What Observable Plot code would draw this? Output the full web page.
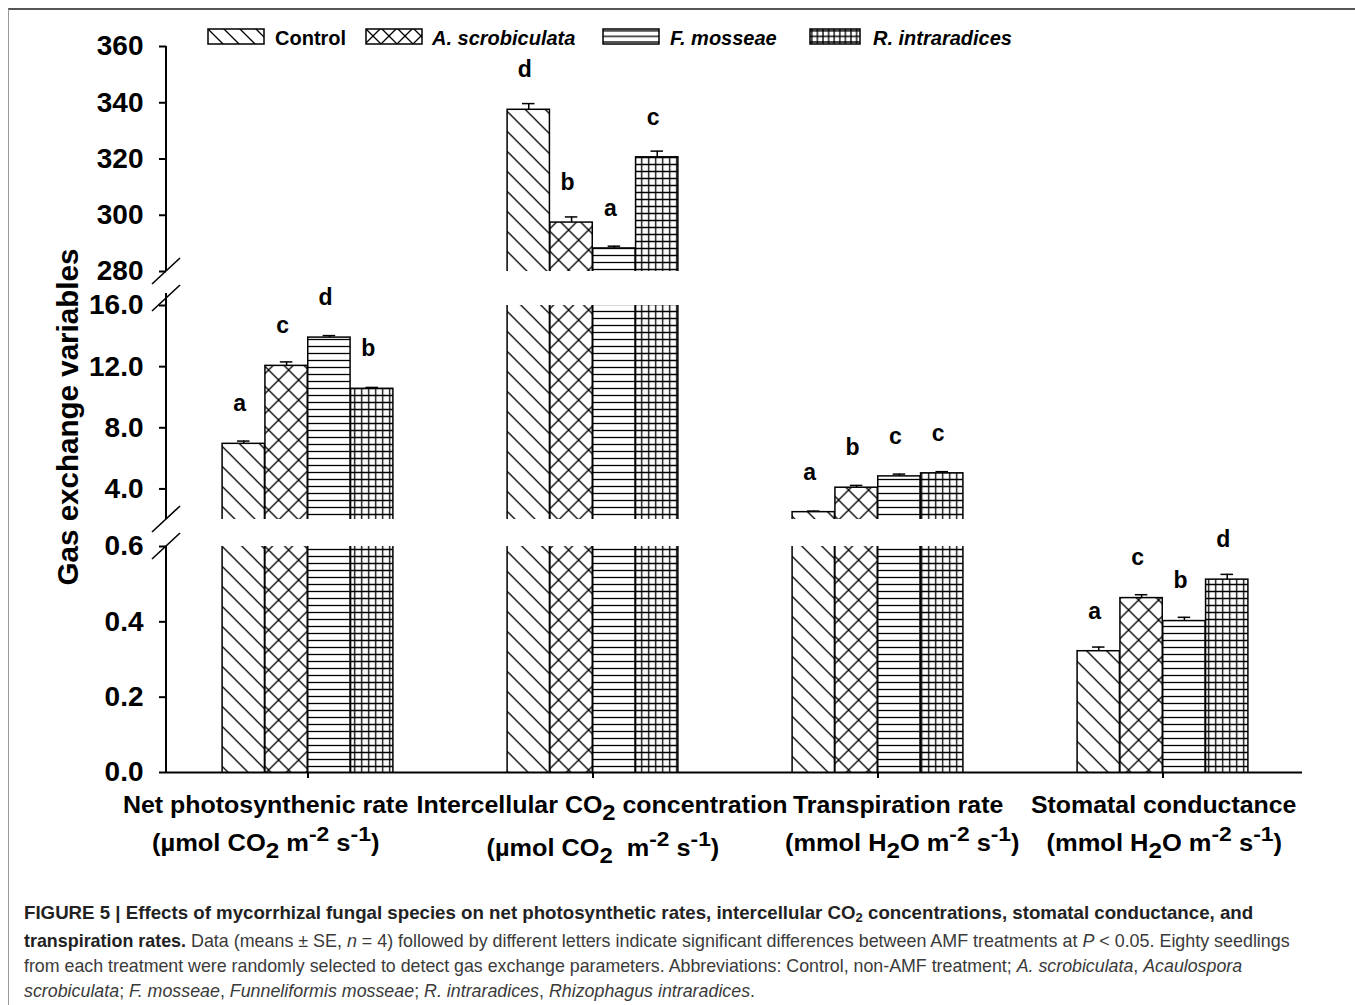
<!DOCTYPE html>
<html><head><meta charset="utf-8">
<script src="https://cdn.jsdelivr.net/npm/d3@7"></script>
<script src="https://cdn.jsdelivr.net/npm/@observablehq/plot@0.6"></script>
<style>
html,body{margin:0;padding:0;background:#fff;overflow:hidden}
#page{position:relative;width:1355px;height:1005px;overflow:hidden;font-family:"Liberation Sans",Arial,Helvetica,sans-serif;color:#000;background:#fff}
#frame{position:absolute;left:8px;top:8px;width:1500px;height:1200px;border-top:2px solid #555;border-left:1px solid #999;box-sizing:border-box}
.abs{position:absolute;white-space:nowrap}
.leg-text{font-weight:bold;font-size:20px;line-height:20px}
.xl{font-weight:bold;font-size:23px;line-height:23px}
.xl sub{font-size:0.95em;vertical-align:-0.3em;line-height:0}
.xl sup{font-size:0.9em;vertical-align:0.5em;line-height:0}
.ytitle{font-weight:bold;font-size:30px;line-height:30px}
.cap{font-size:19px;line-height:19px;color:#3a3a3a}
.cap b{color:#222}
.cap sub{font-size:0.7em;vertical-align:-0.25em;line-height:0}
</style></head>
<body><div id="page"><div id="frame"></div></div>
<script>
// ---------------- data ----------------
const groups = ["Net photosynthenic rate", "Intercellular CO2 concentration", "Transpiration rate", "Stomatal conductance"];
const treatments = ["Control", "A. scrobiculata", "F. mosseae", "R. intraradices"];
const netPhotosynthetic = [6.95, 12.05, 13.9, 10.55];
const netPhotosyntheticSE = [0.18, 0.26, 0.13, 0.09];
const netPhotosyntheticLetters = ["a", "c", "d", "b"];
const intercellularCO2 = [337.5, 297.4, 288.2, 320.6];
const intercellularCO2SE = [2.2, 2.0, 0.8, 2.2];
const intercellularCO2Letters = ["d", "b", "a", "c"];
const transpiration = [2.48, 4.08, 4.82, 5.02];
const transpirationSE = [0.07, 0.15, 0.15, 0.11];
const transpirationLetters = ["a", "b", "c", "c"];
const stomatal = [0.322, 0.463, 0.402, 0.512];
const stomatalSE = [0.011, 0.009, 0.010, 0.014];
const stomatalLetters = ["a", "c", "b", "d"];
const topTicks = [280, 300, 320, 340, 360];
const midTicks = [4, 8, 12, 16];
const lowTicks = [0, 0.2, 0.4, 0.6];
const yTitle = "Gas exchange variables";
const xLabelLine1 = ["Net photosynthenic rate", "Intercellular CO<sub>2</sub> concentration", "Transpiration rate", "Stomatal conductance"];
const xLabelLine2 = ["(µmol CO<sub>2</sub> m<sup>-2</sup> s<sup>-1</sup>)", "(µmol CO<sub>2</sub>&nbsp; m<sup>-2</sup> s<sup>-1</sup>)", "(mmol H<sub>2</sub>O m<sup>-2</sup> s<sup>-1</sup>)", "(mmol H<sub>2</sub>O m<sup>-2</sup> s<sup>-1</sup>)"];
const captionLines = [
  "<b>FIGURE 5 | Effects of mycorrhizal fungal species on net photosynthetic rates, intercellular CO<sub>2</sub> concentrations, stomatal conductance, and</b>",
  "<b>transpiration rates.</b> Data (means ± SE, <i>n</i> = 4) followed by different letters indicate significant differences between AMF treatments at <i>P</i> &lt; 0.05. Eighty seedlings",
  "from each treatment were randomly selected to detect gas exchange parameters. Abbreviations: Control, non-AMF treatment; <i>A. scrobiculata</i>, <i>Acaulospora</i>",
  "<i>scrobiculata</i>; <i>F. mosseae</i>, <i>Funneliformis mosseae</i>; <i>R. intraradices</i>, <i>Rhizophagus intraradices</i>."
];

const series = [
  [netPhotosynthetic, netPhotosyntheticSE, netPhotosyntheticLetters],
  [intercellularCO2, intercellularCO2SE, intercellularCO2Letters],
  [transpiration, transpirationSE, transpirationLetters],
  [stomatal, stomatalSE, stomatalLetters]
];
const rows = groups.flatMap((g, gi) => treatments.map((t, ti) => ({
  group: g, treatment: t, value: series[gi][0][ti], se: series[gi][1][ti], letter: series[gi][2][ti]
})));

// ---------------- layout ----------------
const W = 1355, H = 800, ML = 166, MR = 47, XIN_L = -2, XIN_R = 2;
const BW = (W - ML - MR - XIN_L - XIN_R) / groups.length;
const BAR = BW * 0.6 / treatments.length;
const CAP = 13;
const NS = "http://www.w3.org/2000/svg";
const FONT = "'Liberation Sans', Arial, Helvetica, sans-serif";

function patternDefs(id, s = 1) {
  const a = 20 * s, h = 7 * s;
  return `<defs>
  <pattern id="${id}-p0" patternUnits="userSpaceOnUse" width="${a}" height="${a}">
    <rect width="${a}" height="${a}" fill="white"/>
    <path d="M0,0L${a},${a}M${-a/4},${a*3/4}L${a/4},${a*5/4}M${a*3/4},${-a/4}L${a*5/4},${a/4}" stroke="black" stroke-width="1.3"/>
  </pattern>
  <pattern id="${id}-p1" patternUnits="userSpaceOnUse" width="${a}" height="${a}">
    <rect width="${a}" height="${a}" fill="white"/>
    <path d="M0,0L${a},${a}M${-a/4},${a*3/4}L${a/4},${a*5/4}M${a*3/4},${-a/4}L${a*5/4},${a/4}M${a},0L0,${a}M${-a/4},${a/4}L${a/4},${-a/4}M${a*3/4},${a*5/4}L${a*5/4},${a*3/4}" stroke="black" stroke-width="1.3"/>
  </pattern>
  <pattern id="${id}-p2" patternUnits="userSpaceOnUse" width="${h}" height="${h}">
    <rect width="${h}" height="${h}" fill="white"/>
    <path d="M0,${h/2}H${h}" stroke="black" stroke-width="1.3"/>
  </pattern>
  <pattern id="${id}-p3" patternUnits="userSpaceOnUse" width="${h}" height="${h}">
    <rect width="${h}" height="${h}" fill="white"/>
    <path d="M0,${h/2}H${h}M${h/2},0V${h}" stroke="black" stroke-width="1.3"/>
  </pattern></defs>`;
}

const panels = [
  {id: "top", domain: [280, 360], ticks: topTicks, digits: 0, top: 46, bottom: 271, ext: 0, breakTop: false, breakBottom: true},
  {id: "mid", domain: [2, 16], ticks: midTicks, digits: 1, top: 305, bottom: 519, ext: 12, breakTop: true, breakBottom: true},
  {id: "low", domain: [0, 0.6], ticks: lowTicks, digits: 1, top: 546, bottom: 772, ext: 0, breakTop: true, breakBottom: false}
];

function decor(p) {
  return (index, scales, values, dims) => {
    const g = document.createElementNS(NS, "g");
    const x0 = dims.marginLeft;
    const yTop = dims.marginTop - p.ext;
    const yBot = dims.height - dims.marginBottom;
    let s = patternDefs(p.id);
    s += `<line x1="${x0}" x2="${x0}" y1="${yTop}" y2="${yBot}" stroke="black" stroke-width="2"/>`;
    const slash = y => `<line x1="${x0 - 14}" y1="${y + 13}" x2="${x0 + 14}" y2="${y - 13}" stroke="black" stroke-width="1.6"/>`;
    if (p.breakTop) s += slash(dims.marginTop - (p.ext ? 7 : 0));
    if (p.breakBottom) s += slash(yBot);
    g.innerHTML = s;
    return g;
  };
}

const page = document.getElementById("page");

panels.forEach((p, pi) => {
  const span = p.domain[1] - p.domain[0];
  const marks = [];
  treatments.forEach((t, ti) => {
    const dx = (ti - 1.5) * BAR;
    const inset = (BW - BAR) / 2;
    const capInset = (BW - CAP) / 2;
    const inPanel = rows.filter(r => r.treatment === t && r.value > p.domain[0]);
    const home = inPanel.filter(r => r.value <= p.domain[1]);
    marks.push(Plot.barY(inPanel, {
      x: "group", y1: () => p.domain[0] - span * 0.05, y2: "value", dx,
      insetLeft: inset, insetRight: inset,
      fill: `url(#${p.id}-p${ti})`, stroke: "black", strokeWidth: 1.5, clip: true
    }));
    marks.push(Plot.ruleX(home, {x: "group", y1: "value", y2: d => d.value + d.se, dx, stroke: "black", strokeWidth: 1.5}));
    marks.push(Plot.tickY(home, {x: "group", y: d => d.value + d.se, dx, insetLeft: capInset, insetRight: capInset, stroke: "black", strokeWidth: 1.5}));
    marks.push(Plot.text(home, {x: "group", y: "value", text: "letter", dx: dx - 4, dy: -40, fontSize: 23, fontWeight: "bold", fill: "black"}));
  });
  marks.push(Plot.axisY({ticks: p.ticks, tickFormat: d => d.toFixed(p.digits), tickSize: 7, tickPadding: 16, strokeWidth: 2, fontSize: 28, label: null}));
  if (pi === 2) {
    marks.push(Plot.ruleY([0], {stroke: "black", strokeWidth: 2, insetRight: 6}));
    marks.push(Plot.axisX({tickSize: 6, tickFormat: () => "", strokeWidth: 2, label: null}));
  }
  marks.push(decor(p));
  const xScale = {domain: groups, padding: 0, insetLeft: XIN_L, insetRight: XIN_R};
  if (pi !== 2) xScale.axis = null;
  const plot = Plot.plot({
    width: W, height: H,
    marginLeft: ML, marginRight: MR, marginTop: p.top, marginBottom: H - p.bottom,
    x: xScale,
    y: {domain: p.domain},
    style: {fontFamily: FONT, fontSize: "28px", fontWeight: "bold", color: "black", background: "transparent", overflow: "visible"},
    marks
  });
  plot.style.position = "absolute";
  plot.style.left = "0px";
  plot.style.top = "0px";
  page.appendChild(plot);
});

// ---------------- legend ----------------
const legendBoxes = [208, 366, 603, 810];
const legendTexts = [275, 432, 670, 873];
treatments.forEach((t, ti) => {
  const box = document.createElementNS(NS, "svg");
  box.setAttribute("width", 58); box.setAttribute("height", 17);
  box.style.position = "absolute";
  box.style.left = (legendBoxes[ti] - 1) + "px";
  box.style.top = "28px";
  box.innerHTML = patternDefs("leg" + ti, 0.8).replaceAll(`leg${ti}-p${ti}`, `leg${ti}-sel`) +
    `<rect x="1" y="1" width="${ti === 3 ? 50 : 56}" height="15" fill="url(#leg${ti}-sel)" stroke="black" stroke-width="1.5"/>`;
  page.appendChild(box);
  const tx = document.createElement("div");
  tx.className = "abs leg-text";
  tx.style.left = legendTexts[ti] + "px";
  tx.style.top = "28px";
  tx.style.fontStyle = ti === 0 ? "normal" : "italic";
  tx.textContent = t;
  page.appendChild(tx);
});

// ---------------- text helpers ----------------
function placeFit(html, cls, cx, cy, targetW, lineH) {
  const el = document.createElement("div");
  el.className = "abs " + cls;
  el.innerHTML = html;
  page.appendChild(el);
  const w = el.offsetWidth;
  el.style.left = (cx - w / 2) + "px";
  el.style.top = (cy - lineH / 2) + "px";
  el.style.transformOrigin = "50% 50%";
  el.style.transform = `scaleX(${targetW / w})`;
  return el;
}

const line1Centers = [265.5, 601.5, 898, 1163.5];
const line1Widths = [285, 371, 210, 265];
const line2Centers = [265.5, 602.5, 902.5, 1164];
const line2Y = [843, 848, 843, 843];
const line2Widths = [227, 233, 235, 236];
groups.forEach((g, gi) => {
  placeFit(xLabelLine1[gi], "xl", line1Centers[gi], 805, line1Widths[gi], 23);
  placeFit(xLabelLine2[gi], "xl", line2Centers[gi], line2Y[gi], line2Widths[gi], 23);
});

// y title
{
  const el = document.createElement("div");
  el.className = "abs ytitle";
  el.textContent = yTitle;
  page.appendChild(el);
  const w = el.offsetWidth;
  el.style.left = (68 - w / 2) + "px";
  el.style.top = (417 - 15) + "px";
  el.style.transformOrigin = "50% 50%";
  el.style.transform = `rotate(-90deg) scaleX(${337 / w})`;
}

// caption
const capY = [912, 940, 965, 990];
const capW = [1229, 1266, 1218, 731];
captionLines.forEach((html, i) => {
  const el = document.createElement("div");
  el.className = "abs cap";
  el.innerHTML = html;
  page.appendChild(el);
  const w = el.offsetWidth;
  el.style.left = "24px";
  el.style.top = (capY[i] - 9.5) + "px";
  el.style.transformOrigin = "0 50%";
  el.style.transform = `scaleX(${capW[i] / w})`;
});
</script>
</body></html>
